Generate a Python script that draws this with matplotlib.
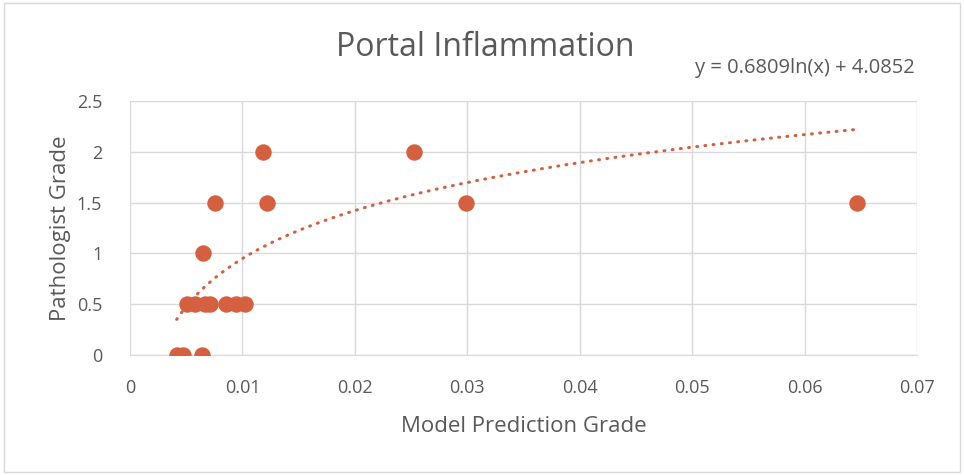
import numpy as np
import matplotlib.pyplot as plt
from matplotlib.patches import Rectangle

# data
model_grade = [0.00415, 0.00474, 0.00638,
               0.0051, 0.0058, 0.00667, 0.0071, 0.00854, 0.00943, 0.01023,
               0.00652,
               0.00759, 0.01222, 0.0299, 0.0647,
               0.01181, 0.02527]
path_grade = [0, 0, 0,
              0.5, 0.5, 0.5, 0.5, 0.5, 0.5, 0.5,
              1,
              1.5, 1.5, 1.5, 1.5,
              2, 2]
fit_a, fit_b = 0.6809, 4.0852

orange = '#D4603F'
txt = '#595959'
grid = '#D9D9D9'

plt.rcParams['font.family'] = ['Open Sans', 'DejaVu Sans']

fig = plt.figure(figsize=(9.64, 4.75), dpi=100)
ax = fig.add_axes([0.1349, 0.2526, 0.8163, 0.5348])

ax.scatter(model_grade, path_grade, s=140, color=orange, zorder=3, linewidths=0)

xs = np.linspace(min(model_grade), max(model_grade), 300)
ax.plot(xs, fit_a * np.log(xs) + fit_b, color=orange, lw=2.2, ls=(0, (0.3, 2.4)),
        dash_capstyle='round', zorder=2)

ax.set_xlim(0, 0.07)
ax.set_ylim(0, 2.5)
ax.set_xticks(np.arange(0, 0.071, 0.01))
ax.set_xticklabels(['0', '0.01', '0.02', '0.03', '0.04', '0.05', '0.06', '0.07'])
ax.set_yticks([0, 0.5, 1, 1.5, 2, 2.5])
ax.set_yticklabels(['0', '0.5', '1', '1.5', '2', '2.5'])
ax.grid(True, color=grid, lw=1)
ax.set_axisbelow(True)
for s in ['top', 'right', 'left']:
    ax.spines[s].set_visible(False)
ax.spines['bottom'].set_color(grid)
ax.tick_params(length=0, labelsize=13, colors=txt)
ax.tick_params(axis='x', pad=17)
ax.tick_params(axis='y', pad=20)

ax.set_xlabel('Model Prediction Grade', fontsize=16, color=txt, labelpad=14)
ax.set_ylabel('Pathologist Grade', fontsize=16, color=txt, labelpad=4)
fig.text(0.503, 0.9, 'Portal Inflammation', fontsize=23, color=txt,
         ha='center', va='center')
fig.text(0.835, 0.857, 'y = 0.6809ln(x) + 4.0852', fontsize=14.5, color=txt,
         ha='center', va='center')

fig.patches.append(Rectangle((0.004, 0.006), 0.992, 0.988, transform=fig.transFigure,
                             fill=False, edgecolor='#D9D9D9', lw=1))

fig.savefig('out.png', dpi=100)
